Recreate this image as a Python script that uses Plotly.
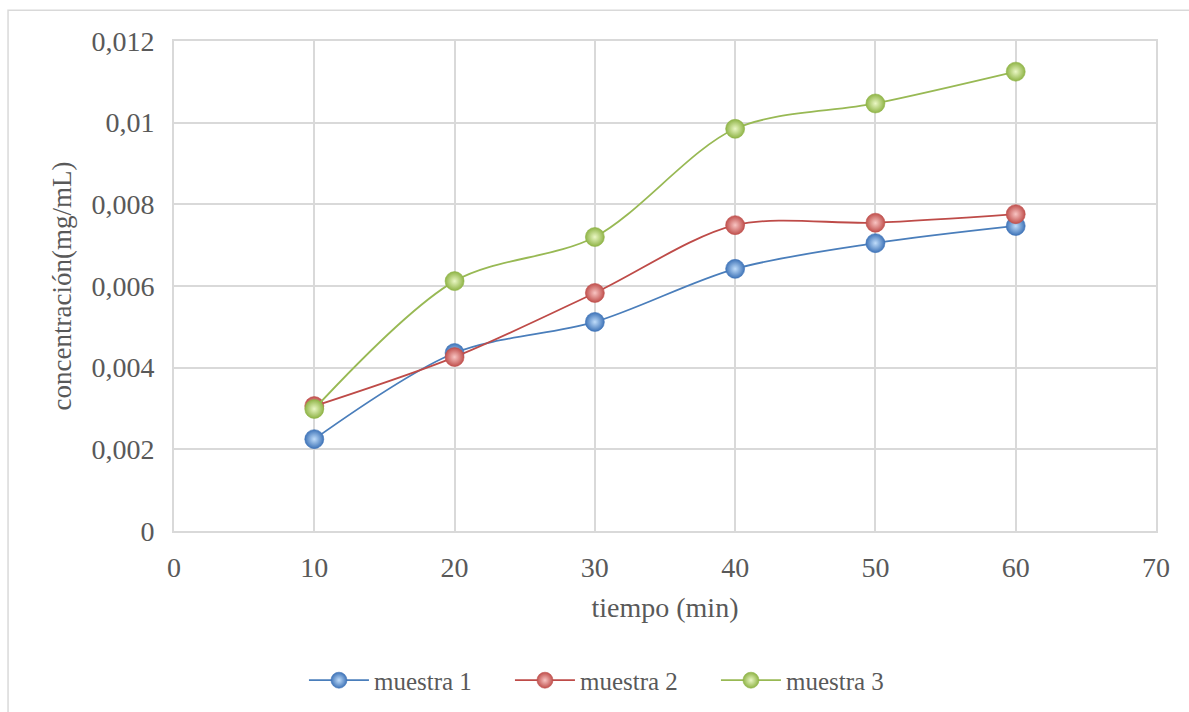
import plotly.graph_objects as go

# Sampling times (min)
tiempo = [10, 20, 30, 40, 50, 60]

# Concentration (mg/mL) per sample
muestra_1 = [0.00225, 0.00436, 0.00512, 0.00642, 0.00705, 0.00747]
muestra_2 = [0.00306, 0.00426, 0.00583, 0.00749, 0.00755, 0.00776]
muestra_3 = [0.00299, 0.00612, 0.00720, 0.00985, 0.01047, 0.01125]

series_names = ["muestra 1", "muestra 2", "muestra 3"]

y_tickvals = [0, 0.002, 0.004, 0.006, 0.008, 0.01, 0.012]
y_ticktext = ["0", "0,002", "0,004", "0,006", "0,008", "0,01", "0,012"]
x_tickvals = [0, 10, 20, 30, 40, 50, 60, 70]

line_colors = ["#4A7EBB", "#BE4B48", "#98B954"]
light_colors = ["#BFDCFA", "#F8C4C2", "#EAF7C4"]
mid_colors = ["#3F74B8", "#C0504D", "#8FB447"]

font_family = "Liberation Serif, Times New Roman, serif"
text_color = "#595959"

fig = go.Figure()
for name, vals, lc, light, mid in zip(series_names, [muestra_1, muestra_2, muestra_3],
                                      line_colors, light_colors, mid_colors):
    fig.add_trace(go.Scatter(
        x=tiempo, y=vals, name=name, mode="lines+markers",
        line=dict(color=lc, width=1.8, shape="spline", smoothing=0.9),
        marker=dict(size=19, color=mid,
                    gradient=dict(type="radial", color=light),
                    line=dict(color=mid, width=0.6)),
    ))

fig.update_layout(
    width=1189, height=712,
    paper_bgcolor="white", plot_bgcolor="white",
    margin=dict(l=174, r=33, t=41, b=181, autoexpand=False),
    font=dict(family=font_family, color=text_color),
    showlegend=True,
    legend=dict(orientation="h", x=0.447, xanchor="center", y=-0.305, yanchor="middle",
                font=dict(size=25, family=font_family, color=text_color),
                itemwidth=60, entrywidth=131, entrywidthmode="pixels", tracegroupgap=0),
    shapes=[dict(type="rect", xref="paper", yref="paper",
                 x0=-0.169, x1=1.06, y0=-0.5, y1=1.063,
                 line=dict(color="#D9D9D9", width=1.5))],
)

fig.update_xaxes(
    range=[0, 70], tickvals=x_tickvals, showgrid=True, gridcolor="#D9D9D9", gridwidth=2,
    zeroline=False, showline=True, linecolor="#D9D9D9", linewidth=2, mirror=True,
    automargin=False,
    ticks="", ticklabelstandoff=10, tickfont=dict(size=28, family=font_family, color=text_color),
    title=dict(text="tiempo (min)", font=dict(size=28, family=font_family, color=text_color),
               standoff=16),
)
fig.update_yaxes(
    range=[0, 0.012], tickvals=y_tickvals, ticktext=y_ticktext,
    showgrid=True, gridcolor="#D9D9D9", gridwidth=2,
    zeroline=False, showline=True, linecolor="#D9D9D9", linewidth=2, mirror=True,
    automargin=False,
    ticks="", ticklabelstandoff=12, tickfont=dict(size=28, family=font_family, color=text_color),
    title=dict(text="concentración(mg/mL)", font=dict(size=27, family=font_family, color=text_color),
               standoff=12),
)

fig.write_html("out.html")
